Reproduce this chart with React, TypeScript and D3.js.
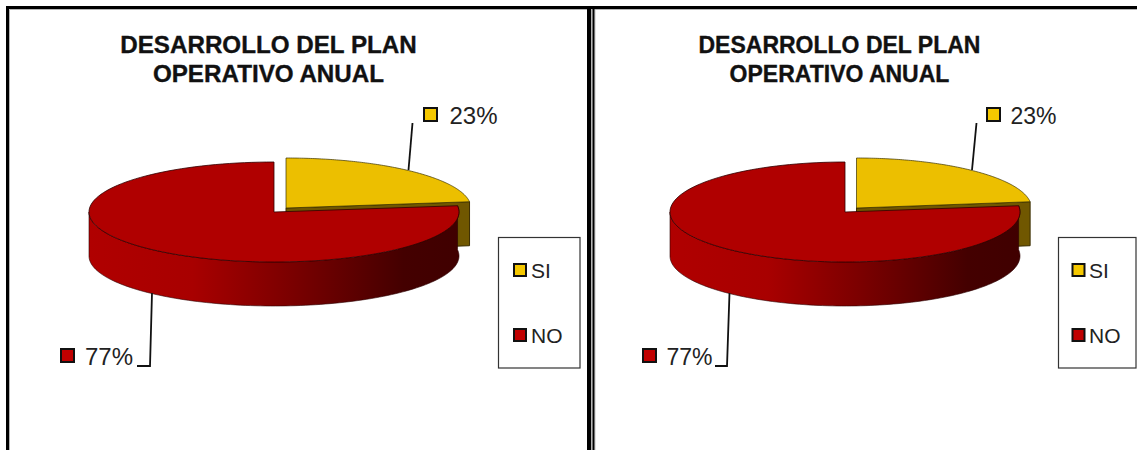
import React from "react";
import * as d3 from "d3";

const categories = ["SI", "NO"];
const shares = [23, 77];
const titleLines = ["DESARROLLO DEL PLAN", "OPERATIVO ANUAL"];
const sliceColors = ["#ecbf00", "#b00000"];
const keyColors = ["#f5c800", "#c00000"];
const FONT = "'Liberation Sans', Arial, sans-serif";

// Projects an angle (clockwise from 12 o'clock) on to a flattened ellipse.
const project = (a: number, cx: number, cy: number, rx: number, ry: number): [number, number] => [
  cx + rx * Math.sin(a),
  cy - ry * Math.cos(a),
];

// Outline of a flattened pie wedge, sampled along the ellipse with d3.path.
function wedgePath(a0: number, a1: number, cx: number, cy: number, rx: number, ry: number) {
  const p = d3.path();
  p.moveTo(cx, cy);
  const n = 120;
  const t = d3.scaleLinear().domain([0, n]).range([a0, a1]);
  d3.range(n + 1).forEach((i) => {
    const [x, y] = project(t(i), cx, cy, rx, ry);
    p.lineTo(x, y);
  });
  p.closePath();
  return p.toString();
}

// Front wall of the extruded pie between two angles.
function wallPath(a0: number, a1: number, cx: number, cy: number, rx: number, ry: number, depth: number) {
  const n = 120;
  const t = d3.scaleLinear().domain([0, n]).range([a0, a1]);
  const pts = d3.range(n + 1).map((i) => project(t(i), cx, cy, rx, ry));
  const p = d3.path();
  pts.forEach(([x, y], i) => (i ? p.lineTo(x, y) : p.moveTo(x, y)));
  [...pts].reverse().forEach(([x, y]) => p.lineTo(x, y + depth));
  p.closePath();
  return p.toString();
}

type Layout = {
  id: string;
  red: [number, number];
  yellow: [number, number];
  rx: number;
  titleX: number;
  titleSize: number;
  labelSize: number;
  leaderSi: [number, number][];
  leaderNo: [number, number][];
  siSquare: number;
  siText: number;
  noSquare: number;
  noText: number;
  legendBox: [number, number];
  legendSquare: number;
  legendText: number;
};

const left: Layout = {
  id: "a",
  red: [274, 212],
  yellow: [286, 208],
  rx: 185,
  titleX: 268.5,
  titleSize: 24.2,
  labelSize: 24,
  leaderSi: [[408.5, 170], [412.5, 123]],
  leaderNo: [[152, 293], [150, 366], [137, 366]],
  siSquare: 424,
  siText: 449.5,
  noSquare: 61,
  noText: 85,
  legendBox: [498.5, 580],
  legendSquare: 514,
  legendText: 531,
};

const right: Layout = {
  id: "b",
  red: [845, 212],
  yellow: [856.5, 208],
  rx: 175,
  titleX: 839.5,
  titleSize: 23,
  labelSize: 23,
  leaderSi: [[972, 170], [976.5, 123]],
  leaderNo: [[729.5, 293], [727, 366], [715, 366]],
  siSquare: 987,
  siText: 1010.5,
  noSquare: 643,
  noText: 666.5,
  legendBox: [1058.5, 1136],
  legendSquare: 1072.5,
  legendText: 1089,
};

const RY = 50;
const DEPTH = 44;

function Square({ x, y, size, fill }: { x: number; y: number; size: number; fill: string }) {
  return <rect x={x} y={y} width={size} height={size} fill={fill} stroke="#111" strokeWidth={2} />;
}

function Panel({ l }: { l: Layout }) {
  const pie = d3
    .pie<number>()
    .sort(null)
    .value((d) => d)(shares);
  const [si, no] = pie;
  const [rcx, rcy] = l.red;
  const [ycx, ycy] = l.yellow;
  const line = d3.line();
  const siEnd = project(si.endAngle, ycx, ycy, l.rx, RY);

  // Yellow cut face extruded under the slice, visible to the right of the red wedge.
  const cutFace = d3.path();
  cutFace.moveTo(ycx, ycy);
  cutFace.lineTo(siEnd[0], siEnd[1]);
  cutFace.lineTo(siEnd[0], siEnd[1] + DEPTH);
  cutFace.lineTo(ycx, ycy + DEPTH);
  cutFace.closePath();

  return (
    <g>
      <defs>
        <linearGradient
          id={`wall-${l.id}`}
          gradientUnits="userSpaceOnUse"
          x1={rcx - l.rx}
          x2={rcx + l.rx}
          y1={0}
          y2={0}
        >
          <stop offset="0" stopColor="#b00000" />
          <stop offset="0.28" stopColor="#a80000" />
          <stop offset="0.55" stopColor="#7a0000" />
          <stop offset="0.85" stopColor="#440000" />
          <stop offset="1" stopColor="#400000" />
        </linearGradient>
      </defs>

      {titleLines.map((t, i) => (
        <text
          key={t}
          x={l.titleX}
          y={53 + i * 28.5}
          textAnchor="middle"
          fontFamily={FONT}
          fontWeight={700}
          fontSize={l.titleSize}
          fill="#111"
          stroke="#111"
          strokeWidth={0.35}
        >
          {t}
        </text>
      ))}

      {/* Exploded SI slice sits behind the NO wedge */}
      <path d={cutFace.toString()} fill="#705700" stroke="#3a2d00" strokeWidth={1} />
      <path
        d={wedgePath(si.startAngle, si.endAngle, ycx, ycy, l.rx, RY)}
        fill={sliceColors[0]}
        stroke="#3a3000"
        strokeWidth={0.7}
      />

      {/* NO slice: wall first, then its top */}
      <path
        d={wallPath(no.startAngle, (3 * Math.PI) / 2, rcx, rcy, l.rx, RY, DEPTH)}
        fill={`url(#wall-${l.id})`}
        stroke="#2a0000"
        strokeWidth={0.6}
      />
      <path
        d={wedgePath(no.startAngle, no.endAngle, rcx, rcy, l.rx, RY)}
        fill={sliceColors[1]}
        stroke="#300000"
        strokeWidth={0.8}
      />

      <path d={line(l.leaderSi) ?? ""} fill="none" stroke="#111" strokeWidth={1.8} />
      <path d={line(l.leaderNo) ?? ""} fill="none" stroke="#111" strokeWidth={1.8} />

      <Square x={l.siSquare} y={108} size={13} fill={keyColors[0]} />
      <text x={l.siText} y={124} fontFamily={FONT} fontSize={l.labelSize} fill="#222">
        {shares[0]}%
      </text>
      <Square x={l.noSquare} y={349} size={13} fill={keyColors[1]} />
      <text x={l.noText} y={365} fontFamily={FONT} fontSize={l.labelSize} fill="#222">
        {shares[1]}%
      </text>

      <rect
        x={l.legendBox[0]}
        y={237.5}
        width={l.legendBox[1] - l.legendBox[0]}
        height={130.5}
        fill="#fff"
        stroke="#333"
        strokeWidth={1.2}
      />
      {categories.map((c, i) => (
        <g key={c}>
          <Square x={l.legendSquare} y={i ? 329 : 264} size={12} fill={keyColors[i]} />
          <text x={l.legendText} y={i ? 343 : 278} fontFamily={FONT} fontSize={21} fill="#222">
            {c}
          </text>
        </g>
      ))}
    </g>
  );
}

export default function App() {
  return (
    <svg
      width={1137}
      height={450}
      style={{ position: "fixed", left: 0, top: 0, display: "block", background: "#fff" }}
    >
      {/* Sheet borders around the two panels, each with a faint inner shadow */}
      <g fill="none">
        <path d="M9.5,450 V9.5 H1137" stroke="#b5b5b5" strokeWidth={1} />
        <path d="M591.5,10 V450" stroke="#b5b5b5" strokeWidth={2} />
        <path d="M595,10 V450" stroke="#c5c5c5" strokeWidth={1} />
        <path d="M7.5,450 V7.5 H1137" stroke="#000" strokeWidth={3} />
        <path d="M589,8 V450" stroke="#000" strokeWidth={4} />
        <path d="M593.5,8 V450" stroke="#000" strokeWidth={2} />
      </g>
      <Panel l={left} />
      <Panel l={right} />
    </svg>
  );
}
